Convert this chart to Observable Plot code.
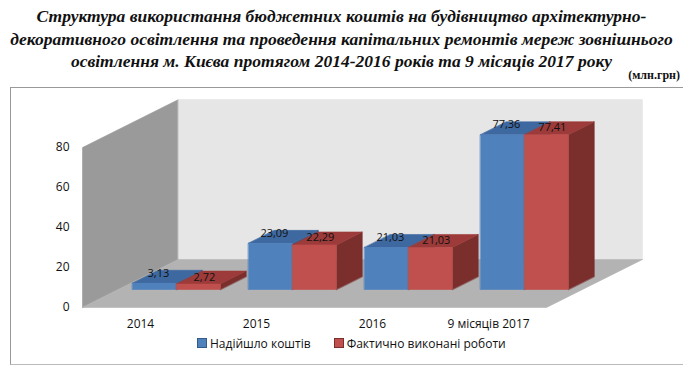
<!DOCTYPE html>
<html><head><meta charset="utf-8">
<script src="https://cdn.jsdelivr.net/npm/d3@7"></script>
<script src="https://cdn.jsdelivr.net/npm/@observablehq/plot@0.6"></script>
<style>
body{margin:0;width:683px;height:369px;overflow:hidden;background:#fff;position:relative;font-family:"Open Sans",sans-serif;color:#111;}
#title{position:absolute;left:0;top:5px;width:683px;text-align:center;font:bold italic 17.5px/22.5px "Liberation Serif",serif;}
#unit{position:absolute;right:3px;top:68px;font:bold 12px "Liberation Serif",serif;}
#frame{position:absolute;left:10px;top:87px;width:700px;height:276px;border:1px solid #999;border-right:none;border-bottom-color:#bbb;}
#chart{position:absolute;left:0;top:88px;}
#legend{position:absolute;left:197px;top:335px;font-size:12px;white-space:nowrap;line-height:18px;}
#legend span.sw{display:inline-block;width:8px;height:8px;margin-right:3px;vertical-align:0px;}
#legend span.it{margin-right:23px;}
</style></head>
<body>
<div id="title">Структура використання бюджетних коштів на будівництво архітектурно-<br>декоративного освітлення та проведення капітальних ремонтів мереж зовнішнього<br>освітлення м. Києва протягом 2014-2016 років та 9 місяців 2017 року</div>
<div id="unit">(млн.грн)</div>
<div id="frame"></div>
<div id="chart"></div>
<div id="legend"></div>
<script>
// ---- data ----
const categories = ["2014", "2015", "2016", "9 місяців 2017"];
const received = [3.13, 23.09, 21.03, 77.36];
const completed = [2.72, 22.29, 21.03, 77.41];
const seriesNames = ["Надійшло коштів", "Фактично виконані роботи"];
const yTicks = [0, 20, 40, 60, 80];

// ---- styling / 3D layout ----
const seriesColors = [
  {front: "#4f81bd", top: "#3e68a0", side: "#345a88"},
  {front: "#c0504d", top: "#9c3b39", side: "#7a2f2d"}
];
const labelOffsets = [{dx: 4, dy: -10}, {dx: 6, dy: -7}];
const depthX = 0.8276, depthY = 24;      // full-depth offset in data units
const z0 = 0.375, z1 = 0.645;            // bar depth band
const barW = 0.379, groupOffset = 0.12;  // in category units
const P = (X, Y, Z) => [X + Z * depthX, Y + Z * depthY];

const yMax = d3.max(yTicks), nCat = categories.length;
const polys = [];
const addPoly = (id, color, pts) => pts.forEach(([x, y]) => polys.push({id, color, x, y}));

addPoly("leftwall", "#9a9a9a", [P(0,0,0), P(0,yMax,0), P(0,yMax,1), P(0,0,1)]);
addPoly("backwall", "#e6e6e6", [P(0,0,1), P(nCat,0,1), P(nCat,yMax,1), P(0,yMax,1)]);
addPoly("floor", "#b3b3b3", [P(0,0,0), P(nCat,0,0), P(nCat,0,1), P(0,0,1)]);

const series = [received, completed];
const labels = [];
categories.forEach((c, i) => {
  series.forEach((vals, s) => {
    const v = vals[i];
    const X1 = i + groupOffset + s * barW, X2 = X1 + barW;
    const col = seriesColors[s];
    addPoly(`side${i}${s}`, col.side, [P(X2,0,z0), P(X2,v,z0), P(X2,v,z1), P(X2,0,z1)]);
    addPoly(`top${i}${s}`, col.top, [P(X1,v,z0), P(X2,v,z0), P(X2,v,z1), P(X1,v,z1)]);
    addPoly(`front${i}${s}`, col.front, [P(X1,0,z0), P(X2,0,z0), P(X2,v,z0), P(X1,v,z0)]);
    const [lx, ly] = P((X1 + X2) / 2, v, z0);
    labels.push({s, x: lx, y: ly, text: v.toFixed(2).replace(".", ",")});
  });
});

const chart = Plot.plot({
  width: 683, height: 247,
  marginTop: 59, marginBottom: 28, marginLeft: 82, marginRight: 137,
  style: {background: "transparent", overflow: "visible", fontFamily: "Open Sans", fontSize: "12px", color: "#111"},
  x: {domain: [0, nCat], ticks: categories.map((_, i) => i + 0.5), tickFormat: d => categories[Math.floor(d)], tickSize: 0, tickPadding: 12, label: null},
  y: {domain: [0, yMax], ticks: yTicks, tickSize: 0, tickPadding: 13, label: null},
  color: {type: "identity"},
  marks: [
    Plot.line(polys, {x: "x", y: "y", z: "id", fill: "color", stroke: "color", strokeWidth: 0.6, curve: "linear-closed"}),
    ...labelOffsets.map((o, s) => Plot.text(labels.filter(d => d.s === s), {x: "x", y: "y", text: "text", dx: o.dx, dy: o.dy, fontSize: 11, fill: "#111"}))
  ]
});
document.getElementById("chart").appendChild(chart);

const lg = document.getElementById("legend");
seriesNames.forEach((n, s) => {
  const it = document.createElement("span");
  it.className = "it";
  it.innerHTML = `<span class="sw" style="background:${seriesColors[s].front};border:0.5px solid ${seriesColors[s].side}"></span>${n}`;
  lg.appendChild(it);
});
</script>
</body></html>
